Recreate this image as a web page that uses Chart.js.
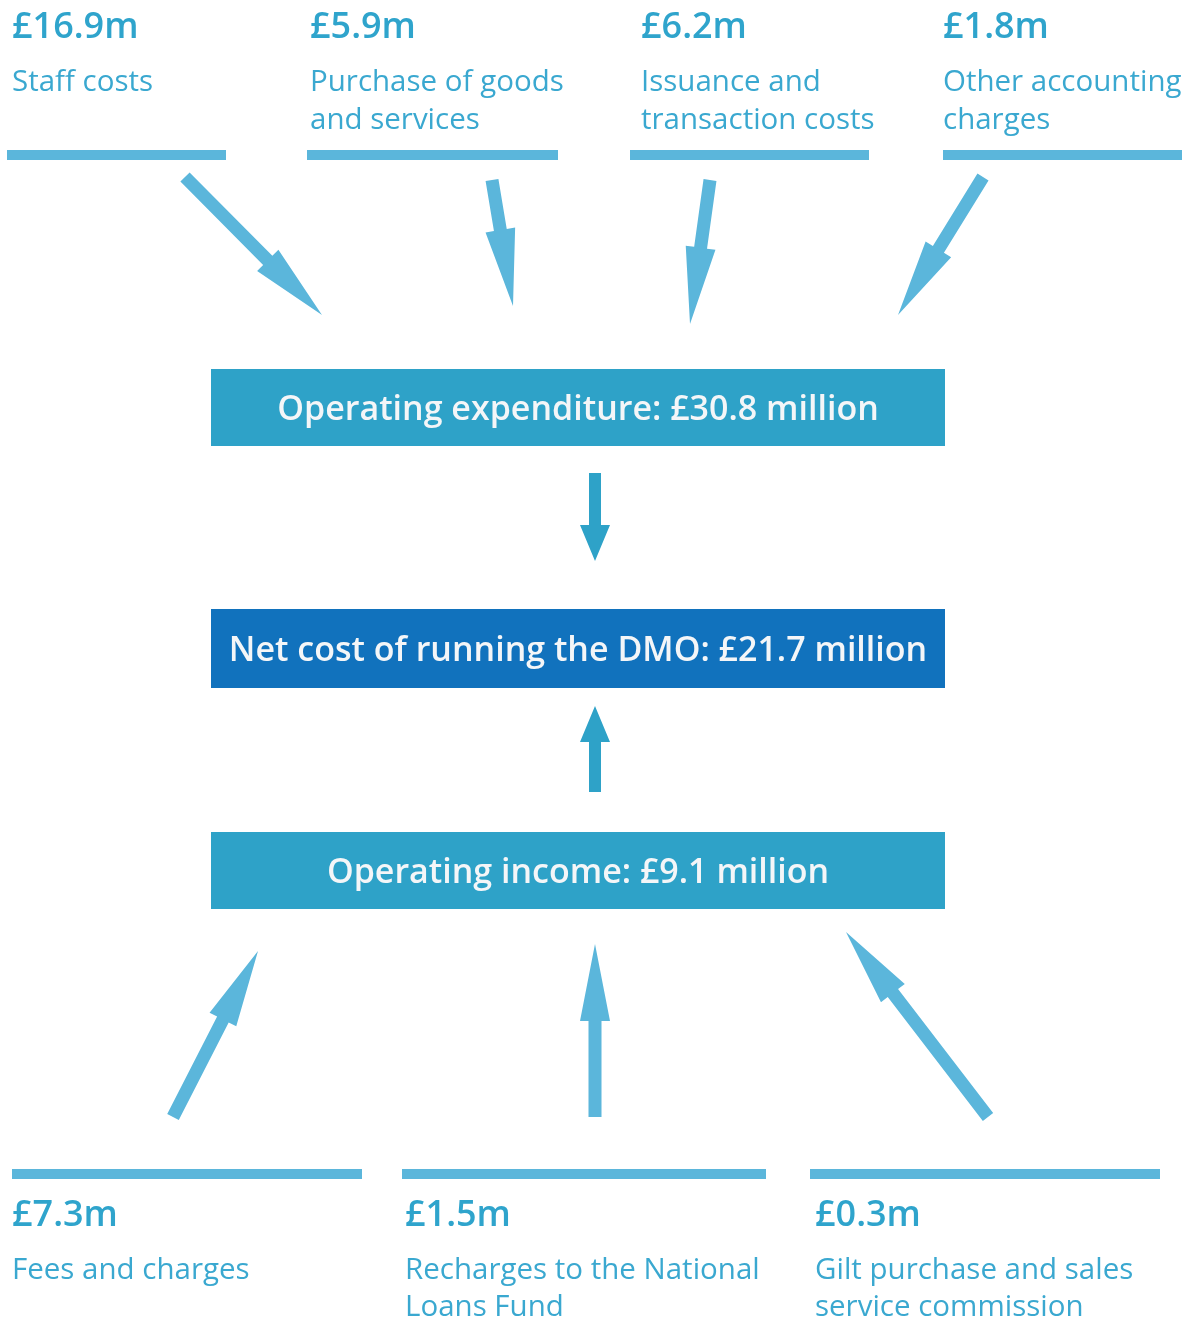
<!DOCTYPE html>
<html>
<head>
<meta charset="utf-8">
<script src="https://cdn.jsdelivr.net/npm/chart.js@4.4.1/dist/chart.umd.min.js"></script>
<style>
html,body{margin:0;padding:0;background:#fff;}
#wrap{width:1194px;height:1319px;position:relative;}
</style>
</head>
<body>
<div id="wrap"><canvas id="c"></canvas></div>
<script>
// ---- DATA ----
const expenseLabels = [["Staff costs"], ["Purchase of goods", "and services"], ["Issuance and", "transaction costs"], ["Other accounting", "charges"]];
const expenseValues = [16.9, 5.9, 6.2, 1.8];
const incomeLabels = [["Fees and charges"], ["Recharges to the National", "Loans Fund"], ["Gilt purchase and sales", "service commission"]];
const incomeValues = [7.3, 1.5, 0.3];
const totalLabels = ["Operating expenditure", "Net cost of running the DMO", "Operating income"];
const totalValues = [30.8, 21.7, 9.1];

// ---- LAYOUT (diagram units = pixels of the 1194x1319 frame) ----
const FONT = '"Open Sans", "Noto Sans", sans-serif';
const C_TEXT = '#2fa4cc';
const C_LABEL = '#3aa8d0';
const C_LINE = '#5bb6db';
const C_BOX = '#2ea2c8';
const C_BOX2 = '#1172bd';

const expenseLayout = [
  {x: 12, bar: [7, 226], tail: [185, 177], tip: [322, 315]},
  {x: 310, bar: [307, 558], tail: [492, 180], tip: [513, 306]},
  {x: 641, bar: [630, 869], tail: [710, 180], tip: [690, 324]},
  {x: 943, bar: [943, 1182], tail: [983, 177], tip: [898, 315]}
];
const incomeLayout = [
  {x: 12, bar: [12, 362], tail: [173, 1117], tip: [258, 951]},
  {x: 405, bar: [402, 766], tail: [595, 1117], tip: [595, 944]},
  {x: 815, bar: [810, 1160], tail: [988, 1117], tip: [846, 932]}
];
const boxLayout = [
  {x0: 211, x1: 945, y0: 369, y1: 446, color: C_BOX},
  {x0: 211, x1: 945, y0: 609, y1: 688, color: C_BOX2},
  {x0: 211, x1: 945, y0: 832, y1: 909, color: C_BOX}
];
const centerArrows = [
  {tail: [595, 473], tip: [595, 561]},
  {tail: [595, 792], tip: [595, 706]}
];

const fmtShort = v => '£' + v.toFixed(1) + 'm';
const fmtLong = v => '£' + v.toFixed(1) + ' million';

function arrow(ctx, sx, sy, tail, tip, shaftW, headL, headW, color) {
  const x0 = sx.getPixelForValue(tail[0]), y0 = sy.getPixelForValue(tail[1]);
  const x1 = sx.getPixelForValue(tip[0]), y1 = sy.getPixelForValue(tip[1]);
  const dx = x1 - x0, dy = y1 - y0, len = Math.hypot(dx, dy);
  const ux = dx / len, uy = dy / len, px = -uy, py = ux;
  const bx = x1 - ux * headL, by = y1 - uy * headL;
  const s = shaftW / 2, h = headW / 2;
  ctx.beginPath();
  ctx.moveTo(x0 + px * s, y0 + py * s);
  ctx.lineTo(bx + px * s, by + py * s);
  ctx.lineTo(bx + px * h, by + py * h);
  ctx.lineTo(x1, y1);
  ctx.lineTo(bx - px * h, by - py * h);
  ctx.lineTo(bx - px * s, by - py * s);
  ctx.lineTo(x0 - px * s, y0 - py * s);
  ctx.closePath();
  ctx.fillStyle = color;
  ctx.fill();
}

const diagramPlugin = {
  id: 'diagram',
  afterDatasetsDraw(chart) {
    const ctx = chart.ctx, sx = chart.scales.x, sy = chart.scales.y;
    ctx.save();
    ctx.textAlign = 'left';
    ctx.textBaseline = 'alphabetic';
    // boxes
    boxLayout.forEach((b, i) => {
      const X0 = sx.getPixelForValue(b.x0), X1 = sx.getPixelForValue(b.x1);
      const Y0 = sy.getPixelForValue(b.y0), Y1 = sy.getPixelForValue(b.y1);
      ctx.fillStyle = b.color;
      ctx.fillRect(X0, Y0, X1 - X0, Y1 - Y0);
      ctx.fillStyle = '#f4f6f8';
      ctx.font = '600 34px ' + FONT;
      ctx.textAlign = 'center';
      ctx.fillText(totalLabels[i] + ': ' + fmtLong(totalValues[i]), (X0 + X1) / 2, (Y0 + Y1) / 2 + 12);
      ctx.textAlign = 'left';
    });
    centerArrows.forEach(a => arrow(ctx, sx, sy, a.tail, a.tip, 12, 36, 30, C_BOX));
    // expenses
    expenseValues.forEach((v, i) => {
      const L = expenseLayout[i];
      ctx.fillStyle = C_TEXT;
      ctx.font = '600 36px ' + FONT;
      ctx.fillText(fmtShort(v), sx.getPixelForValue(L.x), sy.getPixelForValue(38));
      ctx.fillStyle = C_LABEL;
      ctx.font = '400 29.5px ' + FONT;
      expenseLabels[i].forEach((t, j) => ctx.fillText(t, sx.getPixelForValue(L.x), sy.getPixelForValue(91 + 38 * j)));
      arrow(ctx, sx, sy, L.tail, L.tip, 13, 77, 30, C_LINE);
    });
    incomeValues.forEach((v, i) => {
      const L = incomeLayout[i];
      ctx.fillStyle = C_TEXT;
      ctx.font = '600 36px ' + FONT;
      ctx.fillText(fmtShort(v), sx.getPixelForValue(L.x), sy.getPixelForValue(1226));
      ctx.fillStyle = C_LABEL;
      ctx.font = '400 29.5px ' + FONT;
      incomeLabels[i].forEach((t, j) => ctx.fillText(t, sx.getPixelForValue(L.x), sy.getPixelForValue(1279 + 37 * j)));
      arrow(ctx, sx, sy, L.tail, L.tip, 13, 77, 30, C_LINE);
    });
    ctx.restore();
  }
};

const barDatasets = [];
expenseLayout.forEach(L => barDatasets.push({data: [{x: L.bar[0], y: 155}, {x: L.bar[1], y: 155}]}));
incomeLayout.forEach(L => barDatasets.push({data: [{x: L.bar[0], y: 1174}, {x: L.bar[1], y: 1174}]}));
barDatasets.forEach(d => Object.assign(d, {type: 'line', borderColor: C_LINE, borderWidth: 10, borderCapStyle: 'butt', pointRadius: 0, fill: false, showLine: true}));

new Chart(document.getElementById('c'), {
  type: 'scatter',
  data: {datasets: barDatasets},
  options: {
    responsive: true,
    maintainAspectRatio: false,
    animation: false,
    events: [],
    layout: {padding: 0},
    plugins: {legend: {display: false}, tooltip: {enabled: false}},
    scales: {
      x: {type: 'linear', min: 0, max: 1194, display: false},
      y: {type: 'linear', min: 0, max: 1319, reverse: true, display: false}
    }
  },
  plugins: [diagramPlugin]
});
</script>
</body>
</html>
